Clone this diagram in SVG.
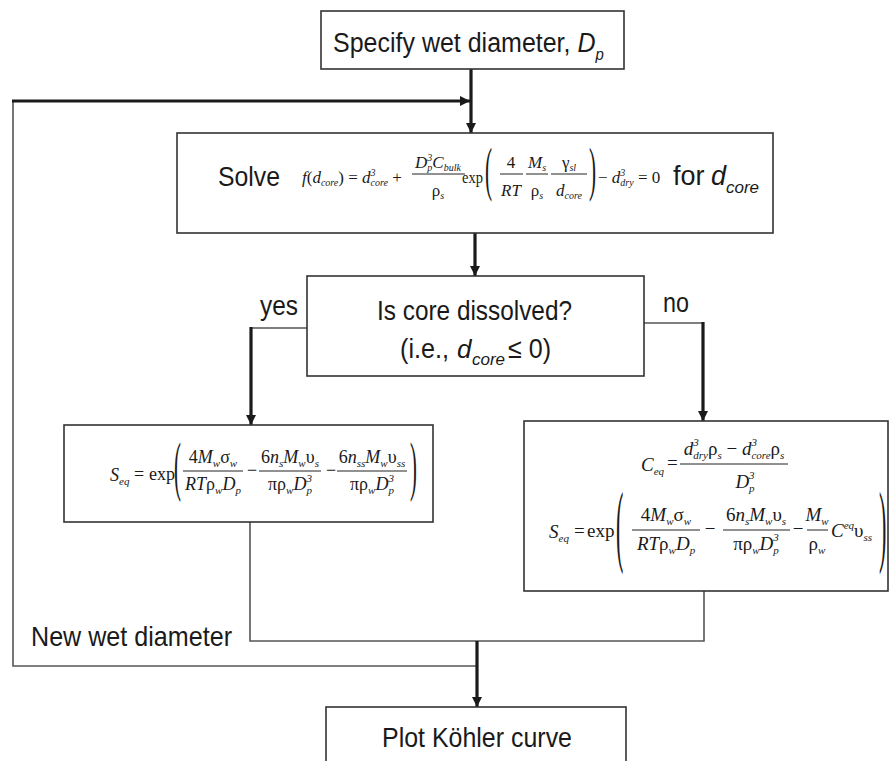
<svg xmlns="http://www.w3.org/2000/svg" width="891" height="761" viewBox="0 0 891 761">
<style>
.box{fill:#fff;stroke:#333;stroke-width:1.6}
.thick{fill:none;stroke:#1a1a1a;stroke-width:3.2}
.thin{fill:none;stroke:#555;stroke-width:1.6}
.bar{stroke:#222;stroke-width:1}
.lbl{font-family:"Liberation Sans",Arial,sans-serif;font-size:28px;fill:#1a1a1a}
.it{font-style:italic}
.m{font-family:"Liberation Serif","Times New Roman",serif;font-style:italic;fill:#1a1a1a}
.r{font-style:normal}
.s{font-size:10px}
.s2{font-size:11px}
</style>
<defs>
<marker id="ah" markerUnits="userSpaceOnUse" markerWidth="10" markerHeight="10" refX="10" refY="5" orient="auto">
<path d="M0,0 L10,5 L0,10 z" fill="#1a1a1a"/>
</marker>
</defs>
<rect width="891" height="761" fill="#fff"/>

<g id="connectors">
<path class="thin" d="M13,101 V666 H477"/>
<path class="thin" d="M250,522 V641 H704 V591"/>
<path class="thin" d="M307,328 H251"/>
<path class="thin" d="M644,323 H703"/>
<path class="thick" d="M471,69 V133" marker-end="url(#ah)"/>
<path class="thick" d="M12,101 H470" marker-end="url(#ah)"/>
<path class="thick" d="M475,233 V276" marker-end="url(#ah)"/>
<path class="thick" d="M251,327 V425" marker-end="url(#ah)"/>
<path class="thick" d="M703,322 V421" marker-end="url(#ah)"/>
<path class="thick" d="M477,641 V707" marker-end="url(#ah)"/>
<text class="lbl" x="260" y="315" textLength="38" lengthAdjust="spacingAndGlyphs">yes</text>
<text class="lbl" x="663" y="312" textLength="26" lengthAdjust="spacingAndGlyphs">no</text>
<text class="lbl" x="31" y="646" textLength="201" lengthAdjust="spacingAndGlyphs">New wet diameter</text>
</g>

<g id="specify">
<rect class="box" x="321" y="11" width="303" height="58"/>
<text class="lbl" transform="translate(333,52) scale(1,1.12)" style="font-size:25px">Specify wet diameter, <tspan class="it">D</tspan><tspan class="it" dy="7" style="font-size:15px">p</tspan></text>
</g>

<g id="solve">
<rect class="box" x="177" y="133" width="596" height="100"/>
<text class="lbl" x="218" y="186" textLength="62" lengthAdjust="spacingAndGlyphs">Solve</text>
<text class="m" x="302" y="183" font-size="17">f<tspan class="r">(</tspan>d<tspan class="s" dy="3">core</tspan><tspan class="r" dy="-3">) = </tspan>d<tspan class="s" dy="-7">3</tspan><tspan class="s" dx="-5" dy="10">core</tspan><tspan class="r" dy="-3"> +</tspan></text>
<text class="m" x="438" y="168" font-size="17" text-anchor="middle">D<tspan class="s" dy="-7">3</tspan><tspan class="s" dx="-5" dy="10">p</tspan><tspan dy="-3">C</tspan><tspan class="s" dy="3">bulk</tspan></text>
<line class="bar" x1="412" y1="174" x2="465" y2="174"/>
<text class="m" x="438" y="196" font-size="17" text-anchor="middle"><tspan class="r">ρ</tspan><tspan class="s" dy="3">s</tspan></text>
<text class="m r" x="462" y="183" font-size="17" textLength="21" lengthAdjust="spacingAndGlyphs">exp</text>
<text class="m r" font-size="59" transform="translate(485,189) scale(0.36,1)">(</text>
<text class="m r" x="511" y="168" font-size="17" text-anchor="middle">4</text>
<line class="bar" x1="500" y1="174" x2="523" y2="174"/>
<text class="m" x="511" y="196" font-size="17" text-anchor="middle">RT</text>
<text class="m" x="537" y="168" font-size="17" text-anchor="middle">M<tspan class="s" dy="3">s</tspan></text>
<line class="bar" x1="526" y1="174" x2="548" y2="174"/>
<text class="m" x="537" y="196" font-size="17" text-anchor="middle"><tspan class="r">ρ</tspan><tspan class="s" dy="3">s</tspan></text>
<text class="m" x="569" y="168" font-size="17" text-anchor="middle"><tspan class="r">γ</tspan><tspan class="s" dy="3">sl</tspan></text>
<line class="bar" x1="551" y1="174" x2="587" y2="174"/>
<text class="m" x="569" y="196" font-size="17" text-anchor="middle">d<tspan class="s" dy="3">core</tspan></text>
<text class="m r" font-size="59" transform="translate(589,189) scale(0.36,1)">)</text>
<text class="m" x="598" y="183" font-size="17"><tspan class="r">− </tspan>d<tspan class="s" dy="-7">3</tspan><tspan class="s" dx="-5" dy="10">dry</tspan><tspan class="r" dy="-3"> = 0</tspan></text>
<text class="lbl" x="673" y="185" style="font-size:27px">for</text>
<text class="lbl it" x="711" y="185" style="font-size:27px">d</text>
<text class="lbl it" x="726" y="193" style="font-size:17px">core</text>
</g>

<g id="decision">
<rect class="box" x="307" y="276" width="337" height="100"/>
<text class="lbl" x="377" y="320" textLength="195" lengthAdjust="spacingAndGlyphs">Is core dissolved?</text>
<text class="lbl" x="400" y="358" textLength="49" lengthAdjust="spacingAndGlyphs">(i.e.,</text>
<text class="lbl it" x="457" y="358" style="font-size:26px">d</text>
<text class="lbl it" x="472" y="365" style="font-size:17px">core</text>
<text class="lbl" x="508" y="358" textLength="43" lengthAdjust="spacingAndGlyphs">≤ 0)</text>
</g>

<g id="dissolved">
<rect class="box" x="64" y="425" width="369" height="97"/>
<text class="m" x="110" y="481" font-size="18">S<tspan class="s2" dy="4">eq</tspan></text>
<text class="m r" x="134" y="480" font-size="18">=</text>
<text class="m r" x="149" y="480" font-size="18">exp</text>
<text class="m r" font-size="65" transform="translate(174,488) scale(0.32,1)">(</text>
<text class="m" x="213" y="463" font-size="18" text-anchor="middle"><tspan class="r">4</tspan>M<tspan class="s2" dy="4">w</tspan><tspan class="r" dy="-4">σ</tspan><tspan class="s2" dy="4">w</tspan></text>
<line class="bar" x1="183" y1="471" x2="243" y2="471"/>
<text class="m" x="213" y="490" font-size="18" text-anchor="middle">RT<tspan class="r">ρ</tspan><tspan class="s2" dy="4">w</tspan><tspan dy="-4">D</tspan><tspan class="s2" dy="4">p</tspan></text>
<text class="m r" x="252" y="476" font-size="18" text-anchor="middle">−</text>
<text class="m" x="290" y="463" font-size="18" text-anchor="middle"><tspan class="r">6</tspan>n<tspan class="s2" dy="4">s</tspan><tspan dy="-4">M</tspan><tspan class="s2" dy="4">w</tspan><tspan class="r" dy="-4">υ</tspan><tspan class="s2" dy="4">s</tspan></text>
<line class="bar" x1="259" y1="471" x2="321" y2="471"/>
<text class="m" x="290" y="490" font-size="18" text-anchor="middle"><tspan class="r">πρ</tspan><tspan class="s2" dy="4">w</tspan><tspan dy="-4">D</tspan><tspan class="s2" dy="-8">3</tspan><tspan class="s2" dx="-5.5" dy="12">p</tspan></text>
<text class="m r" x="331" y="476" font-size="18" text-anchor="middle">−</text>
<text class="m" x="372" y="463" font-size="18" text-anchor="middle"><tspan class="r">6</tspan>n<tspan class="s2" dy="4">ss</tspan><tspan dy="-4">M</tspan><tspan class="s2" dy="4">w</tspan><tspan class="r" dy="-4">υ</tspan><tspan class="s2" dy="4">ss</tspan></text>
<line class="bar" x1="337" y1="471" x2="407" y2="471"/>
<text class="m" x="372" y="490" font-size="18" text-anchor="middle"><tspan class="r">πρ</tspan><tspan class="s2" dy="4">w</tspan><tspan dy="-4">D</tspan><tspan class="s2" dy="-8">3</tspan><tspan class="s2" dx="-5.5" dy="12">p</tspan></text>
<text class="m r" font-size="65" transform="translate(410,488) scale(0.32,1)">)</text>
</g>

<g id="not-dissolved">
<rect class="box" x="524" y="421" width="364" height="170"/>
<text class="m" x="641" y="471" font-size="19">C<tspan class="s2" dy="4">eq</tspan></text>
<text class="m r" x="667" y="469" font-size="19">=</text>
<text class="m" x="734" y="455" font-size="19" text-anchor="middle">d<tspan class="s2" dy="-9">3</tspan><tspan class="s2" dx="-5.5" dy="13">dry</tspan><tspan class="r" dy="-4">ρ</tspan><tspan class="s2" dy="4">s</tspan><tspan class="r" dy="-4"> − </tspan>d<tspan class="s2" dy="-9">3</tspan><tspan class="s2" dx="-5.5" dy="13">core</tspan><tspan class="r" dy="-4">ρ</tspan><tspan class="s2" dy="4">s</tspan></text>
<line class="bar" x1="680" y1="464" x2="788" y2="464"/>
<text class="m" x="745" y="488" font-size="19" text-anchor="middle">D<tspan class="s2" dy="-9">3</tspan><tspan class="s2" dx="-5.5" dy="13">p</tspan></text>
<text class="m" x="549" y="538" font-size="19">S<tspan class="s2" dy="4">eq</tspan></text>
<text class="m r" x="574" y="537" font-size="19">=</text>
<text class="m r" x="587" y="537" font-size="19">exp</text>
<text class="m r" font-size="92" transform="translate(616,555) scale(0.24,1)">(</text>
<text class="m" x="666" y="521" font-size="19" text-anchor="middle"><tspan class="r">4</tspan>M<tspan class="s2" dy="4">w</tspan><tspan class="r" dy="-4">σ</tspan><tspan class="s2" dy="4">w</tspan></text>
<line class="bar" x1="632" y1="530" x2="700" y2="530"/>
<text class="m" x="666" y="550" font-size="19" text-anchor="middle">RT<tspan class="r">ρ</tspan><tspan class="s2" dy="4">w</tspan><tspan dy="-4">D</tspan><tspan class="s2" dy="4">p</tspan></text>
<text class="m r" x="710" y="535" font-size="19" text-anchor="middle">−</text>
<text class="m" x="756" y="521" font-size="19" text-anchor="middle"><tspan class="r">6</tspan>n<tspan class="s2" dy="4">s</tspan><tspan dy="-4">M</tspan><tspan class="s2" dy="4">w</tspan><tspan class="r" dy="-4">υ</tspan><tspan class="s2" dy="4">s</tspan></text>
<line class="bar" x1="723" y1="530" x2="790" y2="530"/>
<text class="m" x="756" y="550" font-size="19" text-anchor="middle"><tspan class="r">πρ</tspan><tspan class="s2" dy="4">w</tspan><tspan dy="-4">D</tspan><tspan class="s2" dy="-9">3</tspan><tspan class="s2" dx="-5.5" dy="13">p</tspan></text>
<text class="m r" x="798" y="535" font-size="19" text-anchor="middle">−</text>
<text class="m" x="817" y="521" font-size="19" text-anchor="middle">M<tspan class="s2" dy="4">w</tspan></text>
<line class="bar" x1="807" y1="530" x2="828" y2="530"/>
<text class="m" x="817" y="550" font-size="19" text-anchor="middle"><tspan class="r">ρ</tspan><tspan class="s2" dy="4">w</tspan></text>
<text class="m" x="831" y="537" font-size="19">C<tspan class="s2" dy="-8">eq</tspan><tspan class="r" dy="8">υ</tspan><tspan class="s2" dy="4">ss</tspan></text>
<text class="m r" font-size="92" transform="translate(879,555) scale(0.24,1)">)</text>
</g>

<g id="plot">
<rect class="box" x="326" y="707" width="300" height="70"/>
<text class="lbl" x="382" y="747" textLength="190" lengthAdjust="spacingAndGlyphs">Plot Köhler curve</text>
</g>
</svg>
